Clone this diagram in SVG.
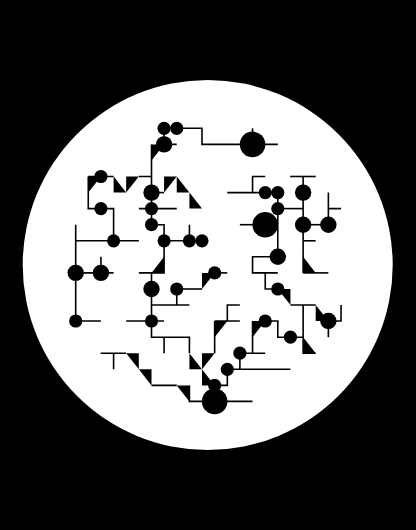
<svg xmlns="http://www.w3.org/2000/svg" width="416" height="530" viewBox="0 0 416 530">
<style>
.c{fill:none;stroke:#000;stroke-width:1.6}
.n{fill:#000}
</style>
<rect width="416" height="530" fill="#000"/>
<circle cx="207.7" cy="265" r="185" fill="#fff"/>
<g transform="translate(0.19 0) scale(0.9975 1)">
<g id="connectors" class="c">
<path d="M164.3 128.3V144.4H177"/>
<path d="M177 128.3H202.3V144.4H278.3"/>
<path d="M253 128.3V144.4"/>
<path d="M151.7 144.4V224.7H164.3V272.9H139"/>
<path d="M88.3 176.5H113.7M139 176.5H151.7"/>
<path d="M88.3 176.5V208.6H113.7V240.8"/>
<path d="M75.7 224.7V321H101"/>
<path d="M75.7 240.8H139"/>
<path d="M139 208.6H177"/>
<path d="M151.7 192.6H164.3"/>
<path d="M164.3 240.8H202.3M189.7 224.7V240.8"/>
<path d="M227.7 192.6H278.3M253 192.6V176.5H265.7"/>
<path d="M278.3 192.6V256.8H253V272.9H278.3"/>
<path d="M278.3 208.6H303.7"/>
<path d="M240.3 224.7H265.7"/>
<path d="M290.7 176.5H316.3"/>
<path d="M303.7 176.5V272.9"/>
<path d="M303.7 240.8H316.3"/>
<path d="M303.7 224.7H329"/>
<path d="M329 192.6V224.7M329 208.6H341.7"/>
<path d="M303.7 272.9H329"/>
<path d="M265.7 272.9V289H278.3"/>
<path d="M291 305H316.3M303.7 305V353.2H316.3"/>
<path d="M329 321V337.2M329 321H341.7V305"/>
<path d="M303.7 337.2H278.3V321H265.7"/>
<path d="M253 321V353.2H265.7M253 353.2H240.3V369.3"/>
<path d="M227.7 369.3H291"/>
<path d="M227.7 369.3V385.4H215"/>
<path d="M215 401.4H253"/>
<path d="M215 321V353.2"/>
<path d="M215 321H240.3M227.7 321V305H240.3"/>
<path d="M215 272.9H227.7"/>
<path d="M177 289H202.3"/>
<path d="M177 289V305"/>
<path d="M151.7 272.9V337.2H189.7V353.2"/>
<path d="M151.7 305H189.7"/>
<path d="M126.3 321H164.3"/>
<path d="M164.3 337.2V353.2"/>
<path d="M100.7 353.2H126.3M113.7 353.2V369.3"/>
<path d="M151.7 385.4H177M189.7 385.4V401.4H215"/>
<path d="M75.7 272.9H113.7M101 256.8V272.9"/>
</g>
<g id="n1" class="n"><circle cx="164.3" cy="128.3" r="6.6"/></g>
<g id="n2" class="n"><circle cx="177" cy="128.3" r="6.6"/></g>
<g id="n3" class="n"><circle cx="253" cy="144.4" r="12.8"/></g>
<g id="n4" class="n"><circle cx="164.3" cy="144.4" r="8.2"/></g>
<g id="n5" class="n"><circle cx="151.7" cy="192.6" r="8.2"/></g>
<g id="n6" class="n"><circle cx="101" cy="176.5" r="6.6"/></g>
<g id="n7" class="n"><circle cx="101" cy="208.6" r="6.6"/></g>
<g id="n8" class="n"><circle cx="113.7" cy="240.8" r="6.6"/></g>
<g id="n9" class="n"><circle cx="151.7" cy="208.6" r="6.6"/></g>
<g id="n10" class="n"><circle cx="151.7" cy="224.7" r="6.6"/></g>
<g id="n11" class="n"><circle cx="164.3" cy="240.8" r="6.6"/></g>
<g id="n12" class="n"><circle cx="189.7" cy="240.8" r="6.6"/></g>
<g id="n13" class="n"><circle cx="202.3" cy="240.8" r="6.6"/></g>
<g id="n14" class="n"><circle cx="265.7" cy="192.6" r="6.6"/></g>
<g id="n15" class="n"><circle cx="278.3" cy="192.6" r="6.6"/></g>
<g id="n16" class="n"><circle cx="278.3" cy="208.6" r="6.6"/></g>
<g id="n17" class="n"><circle cx="265.7" cy="224.7" r="12.8"/></g>
<g id="n18" class="n"><circle cx="303.7" cy="192.6" r="8.2"/></g>
<g id="n19" class="n"><circle cx="303.7" cy="224.7" r="8.2"/></g>
<g id="n20" class="n"><circle cx="329" cy="224.7" r="8.2"/></g>
<g id="n21" class="n"><circle cx="278.3" cy="256.8" r="8.2"/></g>
<g id="n22" class="n"><circle cx="278.3" cy="289" r="6.6"/></g>
<g id="n23" class="n"><circle cx="329" cy="321" r="8.2"/></g>
<g id="n24" class="n"><circle cx="291" cy="337.2" r="6.6"/></g>
<g id="n25" class="n"><circle cx="265.7" cy="321" r="6.6"/></g>
<g id="n26" class="n"><circle cx="240.3" cy="353.2" r="6.6"/></g>
<g id="n27" class="n"><circle cx="227.7" cy="369.3" r="6.6"/></g>
<g id="n28" class="n"><circle cx="215" cy="385.4" r="6.6"/></g>
<g id="n29" class="n"><circle cx="215" cy="401.4" r="12.8"/></g>
<g id="n30" class="n"><circle cx="215" cy="272.9" r="6.6"/></g>
<g id="n31" class="n"><circle cx="177" cy="289" r="6.6"/></g>
<g id="n32" class="n"><circle cx="151.7" cy="289" r="8.2"/></g>
<g id="n33" class="n"><circle cx="151.7" cy="321" r="6.6"/></g>
<g id="n34" class="n"><circle cx="75.7" cy="272.9" r="8.2"/></g>
<g id="n35" class="n"><circle cx="101" cy="272.9" r="8.2"/></g>
<g id="n36" class="n"><circle cx="75.7" cy="321" r="6.6"/></g>
<g id="t1" class="n"><path d="M151.7 144.4H164.3L151.7 160.4Z"/></g>
<g id="t2" class="n"><path d="M88.3 176.5H101L88.3 192.6Z"/></g>
<g id="t3" class="n"><path d="M113.7 176.5V192.6H126.3Z"/></g>
<g id="t4" class="n"><path d="M126.3 176.5H139L126.3 192.6Z"/></g>
<g id="t5" class="n"><path d="M164.3 176.5H177L164.3 192.6Z"/></g>
<g id="t6" class="n"><path d="M177 176.5L189.7 192.6H177Z"/></g>
<g id="t7" class="n"><path d="M189.7 192.6L202.3 208.6H189.7Z"/></g>
<g id="t8" class="n"><path d="M164.3 256.8V272.9H151.7Z"/></g>
<g id="t9" class="n"><path d="M303.7 256.8L316.3 272.9H303.7Z"/></g>
<g id="t10" class="n"><path d="M278.3 289H291V305Z"/></g>
<g id="t11" class="n"><path d="M316.3 305L329 321H316.3Z"/></g>
<g id="t12" class="n"><path d="M303.7 337.2L316.3 353.2H303.7Z"/></g>
<g id="t13" class="n"><path d="M253 321H265.7L253 337.2Z"/></g>
<g id="t14" class="n"><path d="M215 321H227.7L215 337.2Z"/></g>
<g id="t15" class="n"><path d="M202.3 272.9H215L202.3 289Z"/></g>
<g id="t16" class="n"><path d="M202.3 353.2H215L202.3 369.3Z"/></g>
<g id="t17" class="n"><path d="M202.3 369.3L215 385.4H202.3Z"/></g>
<g id="t18" class="n"><path d="M189.7 353.2L202.3 369.3H189.7Z"/></g>
<g id="t19" class="n"><path d="M126.3 353.2H139V369.3Z"/></g>
<g id="t20" class="n"><path d="M139 369.3H151.7V385.4Z"/></g>
<g id="t21" class="n"><path d="M177 385.4H189.7V401.4Z"/></g>
</g>
</svg>
